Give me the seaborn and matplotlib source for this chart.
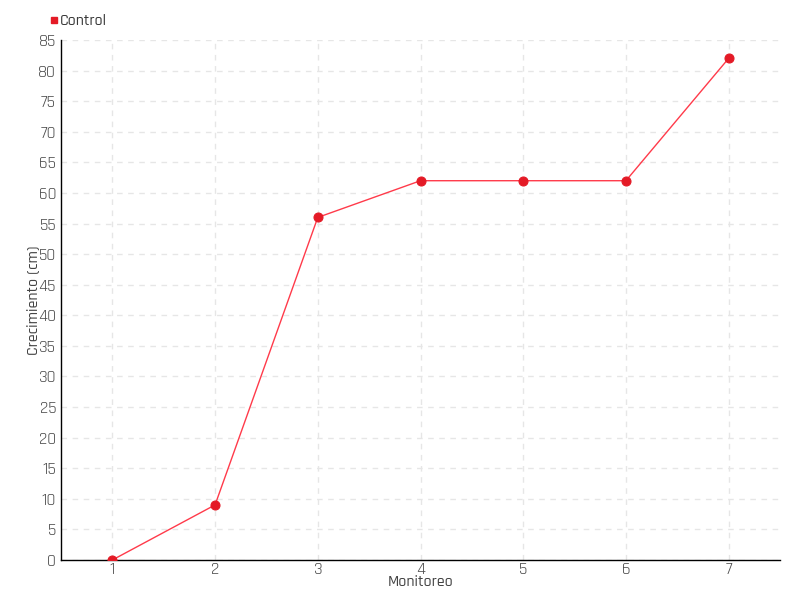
import pandas as pd
import matplotlib
matplotlib.use('Agg')
import matplotlib.pyplot as plt
import seaborn as sns
from matplotlib.lines import Line2D

# data
monitoreo = [1, 2, 3, 4, 5, 6, 7]
control = [0, 9, 56, 62, 62, 62, 82]

df = pd.DataFrame({'Monitoreo': monitoreo, 'Crecimiento': control})

sns.set_style('white')
plt.rcParams['font.family'] = ['Rajdhani', 'DejaVu Sans']

fig = plt.figure(figsize=(8, 6), dpi=100)
ax = fig.add_axes([0.07625, 0.0667, 0.89875, 0.8666])

sns.lineplot(data=df, x='Monitoreo', y='Crecimiento', ax=ax, color='#ff3a4a',
             linewidth=1, marker='o', markersize=6.5, markerfacecolor='#e41a26',
             markeredgecolor='#e41a26', zorder=3)

ax.set_xlim(0.5, 7.5)
ax.set_ylim(0, 85)
ax.set_xticks(monitoreo)
ax.set_yticks(range(0, 90, 5))
ax.grid(True, color='#e6e6e6', linestyle=(0, (4, 4)), linewidth=1)
ax.set_axisbelow(True)

for s in ['top', 'right']:
    ax.spines[s].set_visible(False)
for s in ['left', 'bottom']:
    ax.spines[s].set_color('black')
    ax.spines[s].set_linewidth(1)

ax.tick_params(axis='both', labelsize=12.5, labelcolor='#4d4d4d', length=5,
               direction='inout', width=1, color='black')
ax.tick_params(axis='x', pad=-1)
ax.tick_params(axis='y', pad=1)

ax.set_xlabel('Monitoreo', fontsize=11.5, color='#444444', labelpad=-1,
              fontweight='medium')
ax.set_ylabel('Crecimiento (cm)', fontsize=11.5, color='#444444', labelpad=-1,
              fontweight='medium')

handle = Line2D([], [], linestyle='none', marker='s', markersize=5,
                color='#e41a26')
fig.legend([handle], ['Control'], loc='upper left', bbox_to_anchor=(0.053, 0.987),
           frameon=False, handletextpad=0.1, handlelength=0.6,
           labelcolor='#3a3a3a', borderaxespad=0,
           prop={'size': 11.5, 'weight': 'medium'})

fig.savefig('out.png', dpi=100)
